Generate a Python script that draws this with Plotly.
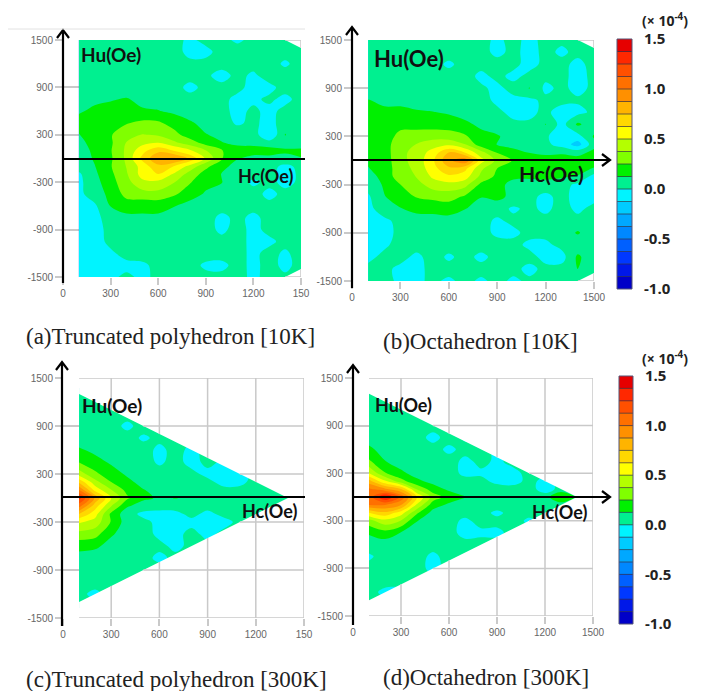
import plotly.graph_objects as go

W, H = 701, 683  # the page adds an 8 px body margin
OFF = 8

# ---------- data (values in units of 1e-4) ----------
hc_values = [100, 200, 300, 400, 500, 600, 700, 800, 900, 1000, 1100, 1200, 1300, 1400, 1500]
hu_values = [1500, 1350, 1200, 1050, 900, 750, 600, 450, 300, 200, 100, 0,
             -100, -200, -300, -450, -600, -750, -900, -1050, -1200, -1350, -1500]

z_truncated_10k = [
    [.03, .03, .03, .03, .04, .04, .03, -.02, .03, .03, -.02, .03, .03, .03, .03],
    [.05, .05, .05, .05, .05, .05, .05, -.04, -.03, .04, .05, .04, .04, .05, .05],
    [.05, .05, .05, .05, .05, .05, .05, .03, .03, .04, .04, .04, .05, -.02, .05],
    [.05, .05, .05, .05, .05, .05, .05, .04, .02, -.04, .03, -.02, .05, .05, .05],
    [.05, .05, .05, .05, .06, .05, .04, -.03, .03, .03, .03, -.04, -.03, .04, .04],
    [.06, .10, .115, .135, .09, .08, .07, .04, .04, .03, -.03, -.02, .02, -.03, .04],
    [.11, .15, .17, .19, .14, .13, .10, .07, .04, .03, -.03, .02, -.03, .03, .04],
    [.17, .20, .22, .24, .28, .27, .20, .14, .09, .06, -.02, .03, -.05, .07, .04],
    [.12, .18, .24, .33, .38, .36, .29, .19, .13, .10, .08, .06, -.12, .13, .05],
    [.09, .17, .23, .38, .46, .50, .40, .31, .20, .13, .10, .10, .05, .08, .06],
    [.07, .15, .24, .40, .58, .72, .62, .52, .38, .26, .17, .16, .18, .14, .15],
    [.05, .14, .23, .40, .66, .85, .90, .72, .48, .26, .13, .10, .09, .10, .12],
    [.05, .12, .24, .38, .55, .72, .62, .45, .28, .16, .08, .05, .04, -.03, .03],
    [-.02, .10, .22, .36, .55, .62, .48, .32, .20, .12, .07, .04, .03, -.04, .02],
    [-.03, .08, .20, .33, .47, .47, .38, .26, .16, .13, .05, -.02, .03, -.03, .02],
    [-.03, .06, .16, .29, .32, .33, .27, .18, .11, .07, .10, .04, -.03, .03, .03],
    [-.05, -.02, .13, .19, .17, .17, .13, .08, .06, .05, .08, .04, .03, .03, .04],
    [-.06, -.04, .06, .09, .10, .10, .07, .06, .05, -.03, .03, -.03, .04, .04, .05],
    [-.06, -.05, .04, .05, .05, .05, .05, .05, .05, -.03, .05, -.04, .04, .04, .05],
    [-.06, -.05, .03, .05, .05, .05, .05, .05, .05, .04, .05, -.04, -.03, .04, .05],
    [-.06, -.05, -.02, .04, .05, .03, .05, .05, .05, .05, .04, -.03, .04, -.02, .05],
    [-.05, -.05, -.02, -.03, -.02, .03, .04, .04, -.02, -.03, .04, -.03, .04, -.03, .04],
    [-.03, -.03, -.02, .02, -.02, .02, .02, .03, .03, .03, .03, -.02, .03, .02, .03],
]

z_octahedron_10k = [
    [.03, .03, .02, .03, .03, .02, .03, .03, -.02, .03, -.03, .03, .02, .03, .03],
    [.05, .05, .05, .05, .05, .05, .04, .04, -.03, .03, -.04, .03, -.02, .03, .04],
    [.05, .05, .05, .05, .04, -.02, .04, .04, .04, .03, -.04, .03, .03, -.03, .04],
    [.05, .05, .05, .05, .05, .04, .05, -.03, .03, -.03, .03, .03, .03, -.04, .03],
    [.05, .05, .05, .05, .05, .05, .05, .02, -.03, .04, .13, -.03, .03, -.04, .03],
    [.13, .10, .09, .07, .06, .05, .05, .05, -.03, -.03, -.03, .03, .04, .02, .04],
    [.17, .15, .16, .14, .13, .11, .08, .05, .03, -.04, -.03, .03, -.06, -.04, .03],
    [.20, .21, .22, .20, .19, .19, .15, .10, .05, .03, .02, .13, -.05, .15, .04],
    [.17, .20, .28, .31, .33, .31, .27, .16, .14, .06, .04, .03, -.12, -.05, .14],
    [.16, .20, .32, .38, .44, .47, .38, .18, .12, .07, .05, .03, -.05, -.18, .08],
    [.15, .19, .34, .42, .55, .75, .62, .42, .24, .18, .12, .08, .10, .08, .16],
    [.14, .18, .34, .42, .60, .85, .98, .55, .34, .24, .18, .22, .21, .18, .22],
    [.12, .17, .33, .40, .58, .72, .66, .40, .25, .22, .18, .20, .24, .20, .11],
    [.07, .17, .32, .38, .52, .60, .56, .34, .22, .14, .14, .16, .14, .11, -.05],
    [.05, .14, .25, .32, .44, .46, .42, .22, .15, .10, .09, .07, .05, -.03, -.06],
    [-.02, .12, .17, .26, .28, .30, .23, .13, .16, .09, .03, -.03, .04, -.05, -.05],
    [-.04, .07, .12, .16, .17, .18, .13, .07, .05, -.02, .03, -.03, .05, -.03, .04],
    [-.05, -.03, .04, .07, .07, .08, .05, .04, -.02, .03, .04, .04, .05, .04, .04],
    [-.05, -.04, .03, .05, .05, .05, .05, .05, -.03, -.03, .04, .04, .05, .14, .03],
    [-.04, -.02, .04, .05, .05, .05, .05, .05, .05, .04, -.03, -.03, .04, .04, .03],
    [-.03, .03, .04, -.03, .05, -.02, .04, -.03, .04, .04, .04, -.04, -.05, .15, .03],
    [.03, .03, -.03, -.03, .03, .04, .04, .04, .03, .03, -.03, .03, .04, .13, .02],
    [.02, .03, -.02, -.02, .02, -.02, .03, -.02, .03, -.02, .02, .03, .02, .03, .02],
]

N = None
z_truncated_300k = [
    [N, N, N, N, N, N, N, N, N, N, N, N, N, N, N],
    [.05, .05, .05, N, N, N, N, N, N, N, N, N, N, N, N],
    [.05, .05, .05, .05, N, N, N, N, N, N, N, N, N, N, N],
    [.05, .05, .05, .05, .05, N, N, N, N, N, N, N, N, N, N],
    [.05, .05, .05, -.03, .05, .05, N, N, N, N, N, N, N, N, N],
    [.07, .06, .05, .05, -.02, .03, .04, N, N, N, N, N, N, N, N],
    [.14, .10, .07, .05, .05, -.03, .04, -.03, .04, N, N, N, N, N, N],
    [.24, .16, .11, .08, .05, -.02, .04, -.04, .03, -.02, .03, N, N, N, N],
    [.44, .28, .17, .11, .06, .05, .04, .03, -.03, -.04, -.04, .03, N, N, N],
    [.72, .42, .25, .15, .09, .06, .04, .04, .03, -.04, -.03, .04, .03, N, N],
    [1.00, .58, .38, .21, .13, .09, .07, .05, .04, .03, .03, .03, .03, .03, N],
    [1.30, .85, .50, .27, .15, .11, .13, .10, .06, .05, .05, .05, .05, .04, .03],
    [1.05, .68, .38, .14, .07, .05, .05, .04, .04, .04, .03, .03, .03, .03, N],
    [.75, .55, .22, .05, -.03, -.04, -.03, .03, -.03, .03, .03, .03, .03, N, N],
    [.52, .45, .24, .06, .03, -.03, -.04, -.03, -.03, -.04, .03, .03, N, N, N],
    [.33, .30, .14, .07, .05, -.03, -.03, .03, -.03, .03, .03, N, N, N, N],
    [.17, .15, .08, .05, .05, .03, -.03, .03, .03, N, N, N, N, N, N],
    [.07, .06, .05, .05, .04, -.03, .03, .03, N, N, N, N, N, N, N],
    [.05, .05, .05, .05, .05, .05, .05, N, N, N, N, N, N, N, N],
    [.05, .05, .05, .05, .05, .05, N, N, N, N, N, N, N, N, N],
    [.03, -.03, .05, .05, .05, N, N, N, N, N, N, N, N, N, N],
    [.04, .04, .04, .04, N, N, N, N, N, N, N, N, N, N, N],
    [N, N, N, N, N, N, N, N, N, N, N, N, N, N, N],
]

z_octahedron_300k = [
    [N, N, N, N, N, N, N, N, N, N, N, N, N, N, N],
    [.05, .05, .05, N, N, N, N, N, N, N, N, N, N, N, N],
    [.05, .05, -.02, .05, N, N, N, N, N, N, N, N, N, N, N],
    [.05, .05, .05, .05, .05, N, N, N, N, N, N, N, N, N, N],
    [.05, .05, .05, .05, .05, -.02, N, N, N, N, N, N, N, N, N],
    [.05, .05, .05, .05, -.04, .05, -.02, N, N, N, N, N, N, N, N],
    [.16, .06, .05, .05, .05, -.03, .04, .03, -.02, N, N, N, N, N, N],
    [.27, .13, .07, .05, .05, .05, -.03, .03, -.02, .03, -.02, N, N, N, N],
    [.50, .26, .15, .08, .06, .05, -.03, -.02, -.03, -.03, .03, .03, N, N, N],
    [.80, .52, .30, .15, .09, .06, .04, .03, -.03, -.04, .03, -.03, .03, N, N],
    [1.02, .90, .75, .36, .18, .10, .08, .06, .05, .04, .05, -.06, .04, .05, N],
    [1.05, 1.40, 1.10, .62, .32, .20, .13, .10, .07, .05, .05, .06, .28, .10, .03],
    [1.00, 1.00, .88, .48, .18, .10, .07, .05, .07, .05, .05, .04, .05, .03, N],
    [.62, .72, .56, .27, .08, .05, .05, .05, -.03, .05, .03, .04, .03, N, N],
    [.33, .46, .37, .13, .05, .05, -.03, .05, .04, .04, -.02, .03, N, N, N],
    [.14, .20, .12, .05, .05, .05, -.05, -.03, -.03, .04, .03, N, N, N, N],
    [.06, .06, .05, .05, .05, .05, .05, .05, .05, N, N, N, N, N, N],
    [-.02, .05, .05, .05, -.03, .05, .05, .05, N, N, N, N, N, N, N],
    [.04, .05, .05, .05, -.04, .05, .05, N, N, N, N, N, N, N, N],
    [.03, .05, .05, .05, .05, .05, N, N, N, N, N, N, N, N, N],
    [.04, -.03, -.03, .05, .05, N, N, N, N, N, N, N, N, N, N],
    [.04, .04, .04, .04, N, N, N, N, N, N, N, N, N, N, N],
    [N, N, N, N, N, N, N, N, N, N, N, N, N, N, N],
]

level_start, level_end, level_size = -1.0, 1.5, 0.125
level_colors = ["#0000c8", "#0018e8", "#0038ff", "#0060ff", "#0088ff", "#00a8ff", "#00ccff", "#00f4ff",
                "#00f090", "#00f000", "#80ff00", "#b4ff00", "#ffff00", "#ffd800", "#ffb400", "#ff9000",
                "#ff7000", "#ff5000", "#ff2800", "#e60000"]
cbar_ticks = [-1.0, -0.5, 0.0, 0.5, 1.0, 1.5]
cbar_ticktext = ["-1.0", "-0.5", "0.0", "0.5", "1.0", "1.5"]
x_ticks = [0, 300, 600, 900, 1200, 1500]
y_ticks = [-1500, -900, -300, 300, 900, 1500]

captions = ["(a)Truncated polyhedron [10K]", "(b)Octahedron [10K]",
            "(c)Truncated polyhedron [300K]", "(d)Octahedron [300K]"]

# ---------- layout in pixels of the final picture ----------
GRID = "#c9c9c9"
panels = [
    dict(z=z_truncated_10k, box=(63, 301, 40, 277), tri=False, last="150",
         vaxis=(63, 283, 30), haxis=(63, 159, 305), hu=(79, 55, 19), hc=(236, 176, 18), cap=(24, 337)),
    dict(z=z_octahedron_10k, box=(352, 594, 40, 281), tri=False, last="1500",
         vaxis=(352, 288, 27), haxis=(352, 160, 610), hu=(372, 59, 22), hc=(517, 174, 21), cap=(381, 342)),
    dict(z=z_truncated_300k, box=(63, 304, 378, 618), tri=True, last="150",
         vaxis=(62, 626, 362), haxis=(62, 497, 305), hu=(80, 405, 19), hc=(240, 511, 18), cap=(24, 679)),
    dict(z=z_octahedron_300k, box=(353, 593, 378, 616), tri=True, last="1500",
         vaxis=(353, 625, 365), haxis=(353, 497, 610), hu=(373, 405, 18), hc=(530, 512, 18), cap=(381, 677)),
]


def fx(px):
    return (px - OFF) / W


def fy(py):
    return 1 - (py - OFF) / H


def arrow_path(x0, y0, x1, y1, head=True):
    """Stroke path in paper fractions for a black chevron-headed arrow."""
    d = f"M{fx(x0)},{fy(y0)} L{fx(x1)},{fy(y1)}"
    if head:
        if x0 == x1:
            s = 1 if y1 < y0 else -1
            d += f" M{fx(x1 - 6)},{fy(y1 + 8 * s)} L{fx(x1)},{fy(y1)} L{fx(x1 + 6)},{fy(y1 + 8 * s)}"
        else:
            d += f" M{fx(x1 - 8)},{fy(y1 - 6)} L{fx(x1)},{fy(y1)} L{fx(x1 - 8)},{fy(y1 + 6)}"
    return d


scale = []
n = len(level_colors)
for i, c in enumerate(level_colors):
    scale += [[i / n, c], [(i + 1) / n, c]]

fig = go.Figure()
shapes, annotations = [], []
layout_axes = {}

for i, p in enumerate(panels):
    k = i + 1
    ax_x, ax_y = f"x{k}", f"y{k}"
    fig.add_trace(go.Contour(
        x=hc_values, y=hu_values, z=p["z"], xaxis=ax_x, yaxis=ax_y,
        zmin=level_start, zmax=level_end, colorscale=scale, showscale=False,
        autocontour=False,
        contours=dict(start=level_start, end=level_end, size=level_size, coloring="fill", showlines=False),
        line=dict(width=0), connectgaps=False, hoverinfo="skip",
    ))
    x0, x1, y0, y1 = p["box"]
    common = dict(showgrid=True, gridcolor=GRID, gridwidth=1.5, zeroline=False, ticks="outside",
                  ticklen=7, tickwidth=1.5, tickcolor=GRID, showline=False, automargin=False,
                  tickfont=dict(family="Liberation Sans", size=10, color="#666666"))
    layout_axes[f"xaxis{k}"] = dict(domain=[fx(x0), fx(x1)], range=[0, 1500], anchor=ax_y,
                                    tickmode="array", tickvals=x_ticks,
                                    ticktext=["0", "300", "600", "900", "1200", p["last"]], **common)
    layout_axes[f"yaxis{k}"] = dict(domain=[fy(y1), fy(y0)], range=[-1500, 1500], anchor=ax_x,
                                    tickmode="array", tickvals=y_ticks,
                                    ticktext=[str(t) for t in y_ticks], **common)

    # white mask around the measured region, with the grid segments it hides redrawn on top
    if p["tri"]:
        path = "M100,1300 L1400,0 L100,-1300 L100,-1500 L1500,-1500 L1500,1500 L100,1500 Z"
        segs = []
        for v in x_ticks[1:]:
            edge = 1400 - v
            if edge > 0:
                segs += [(v, edge, v, 1500), (v, -1500, v, -edge)]
            else:
                segs += [(v, -1500, v, 1500)]
        for h in y_ticks:
            start = max(100, 1400 - abs(h))
            segs += [(start, h, 1500, h)]
    else:
        path = "M1400,1500 L1500,1400 L1500,1550 Z M1400,-1500 L1500,-1400 L1500,-1550 Z"
        segs = [(1400, 1500, 1500, 1500), (1500, 1400, 1500, 1500),
                (1400, -1500, 1500, -1500), (1500, -1500, 1500, -1400)]
    shapes.append(dict(type="path", path=path, xref=ax_x, yref=ax_y, fillcolor="white",
                       line=dict(width=0), layer="above"))
    for a, b, c, d in segs:
        shapes.append(dict(type="line", xref=ax_x, yref=ax_y, x0=a, y0=b, x1=c, y1=d,
                           line=dict(color=GRID, width=1.5), layer="above"))

    # black axes arrows
    vx, vb, vt = p["vaxis"]
    hx, hy, he = p["haxis"]
    arrow_line = dict(color="black", width=2.2)
    shapes.append(dict(type="path", xref="paper", yref="paper", path=arrow_path(vx, vb, vx, vt),
                       line=arrow_line, layer="above"))
    shapes.append(dict(type="path", xref="paper", yref="paper", path=arrow_path(hx, hy, he, hy, head=i % 2 == 1),
                       line=arrow_line, layer="above"))

    hu_x, hu_y, hu_s = p["hu"]
    annotations.append(dict(xref="paper", yref="paper", x=fx(hu_x), y=fy(hu_y), xanchor="left", yanchor="middle",
                            showarrow=False, text="<b>Hu(Oe)</b>",
                            font=dict(family="Lato", size=hu_s, color="#101010")))
    hc_x, hc_y, hc_s = p["hc"]
    annotations.append(dict(xref="paper", yref="paper", x=fx(hc_x), y=fy(hc_y), xanchor="left", yanchor="middle",
                            showarrow=False, text="<b>Hc(Oe)</b>",
                            font=dict(family="Lato", size=hc_s, color="#101010")))
    cx, cy = p["cap"]
    annotations.append(dict(xref="paper", yref="paper", x=fx(cx), y=fy(cy), xanchor="left", yanchor="middle",
                            showarrow=False, text=captions[i],
                            font=dict(family="Liberation Serif", size=23, color="#222222")))

# faint frame line above panel (a)
shapes.append(dict(type="line", xref="paper", yref="paper", x0=fx(8), x1=fx(305), y0=fy(29), y1=fy(29),
                   line=dict(color="#e2e2e2", width=1)))

# colour bars
centers = [level_start + level_size * (j + 0.5) for j in range(n)]
for k, (bx0, bx1, by0, by1, unit_y) in zip((5, 6), [(617, 632, 39, 289, 20), (619, 633, 376, 624, 358)]):
    fig.add_trace(go.Heatmap(
        x=[0], y=centers, z=[[c] for c in centers], xaxis=f"x{k}", yaxis=f"y{k}",
        zmin=level_start, zmax=level_end, colorscale=scale, showscale=False, hoverinfo="skip",
    ))
    layout_axes[f"xaxis{k}"] = dict(domain=[fx(bx0), fx(bx1)], visible=False, anchor=f"y{k}", automargin=False)
    layout_axes[f"yaxis{k}"] = dict(domain=[fy(by1), fy(by0)], range=[level_start, level_end], anchor=f"x{k}",
                                    side="right", tickmode="array", tickvals=cbar_ticks,
                                    ticktext=[f"<b>{t}</b>" for t in cbar_ticktext], ticks="outside",
                                    ticklen=8, tickcolor="rgba(0,0,0,0)", showgrid=False,
                                    zeroline=False, showline=False, automargin=False,
                                    tickfont=dict(family="Open Sans", size=15, color="#222222"))
    annotations.append(dict(xref="paper", yref="paper", x=fx(665), y=fy(unit_y), xanchor="center", yanchor="middle",
                            showarrow=False, text="<b>(× 10<sup>-4</sup>)</b>",
                            font=dict(family="Open Sans", size=14, color="#222222")))
    for j in range(1, n):
        shapes.append(dict(type="line", xref=f"x{k} domain", yref=f"y{k}", x0=0, x1=1,
                           y0=level_start + j * level_size, y1=level_start + j * level_size,
                           line=dict(color="rgba(50,50,70,0.7)", width=1), layer="above"))
    shapes.append(dict(type="rect", xref=f"x{k} domain", yref=f"y{k} domain", x0=0, x1=1, y0=0, y1=1,
                       line=dict(color="#555577", width=1), layer="above"))

fig.update_layout(width=W, height=H, margin=dict(l=0, r=0, t=0, b=0), paper_bgcolor="white", plot_bgcolor="white",
                  showlegend=False, shapes=shapes, annotations=annotations, **layout_axes)
fig.write_html("out.html")
